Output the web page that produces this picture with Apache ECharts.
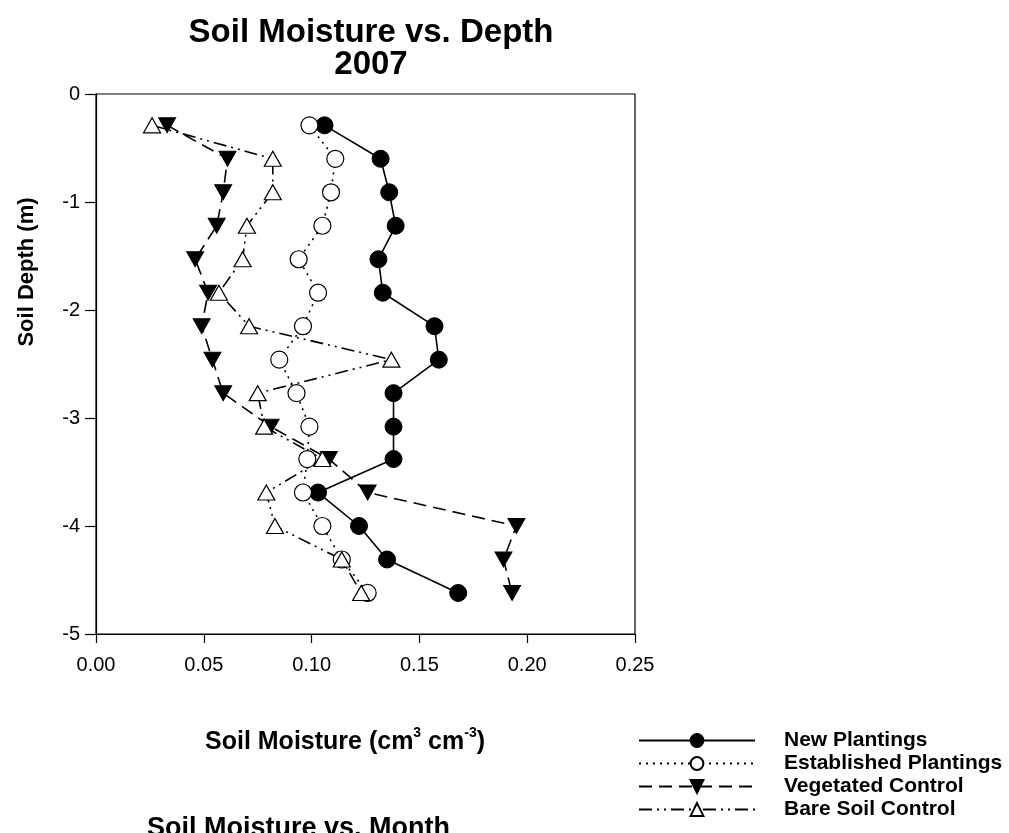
<!DOCTYPE html>
<html>
<head>
<meta charset="utf-8">
<script src="https://cdn.jsdelivr.net/npm/echarts@6/dist/echarts.min.js"></script>
<style>
html,body{margin:0;padding:0;background:#fff;}
#chart{width:1009px;height:833px;}
</style>
</head>
<body>
<div id="chart"></div>
<script>
const depths = [-0.29, -0.60, -0.91, -1.22, -1.53, -1.84, -2.15, -2.46, -2.77, -3.08, -3.38, -3.69, -4.00, -4.31, -4.62];
const newPlantings = [0.106, 0.132, 0.136, 0.139, 0.131, 0.133, 0.157, 0.159, 0.138, 0.138, 0.138, 0.103, 0.122, 0.135, 0.168];
const establishedPlantings = [0.099, 0.111, 0.109, 0.105, 0.094, 0.103, 0.096, 0.085, 0.093, 0.099, 0.098, 0.096, 0.105, 0.114, 0.126];
const vegetatedControl = [0.033, 0.061, 0.059, 0.056, 0.046, 0.052, 0.049, 0.054, 0.059, 0.081, 0.108, 0.126, 0.195, 0.189, 0.193];
const bareSoilControl = [0.026, 0.082, 0.082, 0.070, 0.068, 0.057, 0.071, 0.137, 0.075, 0.078, 0.105, 0.079, 0.083, 0.114, 0.123];
const seriesNames = ['New Plantings', 'Established Plantings', 'Vegetated Control', 'Bare Soil Control'];
const xTicks = [0, 0.05, 0.10, 0.15, 0.20, 0.25];
const yTicks = [0, -1, -2, -3, -4, -5];

const pair = arr => arr.map((v, i) => [v, depths[i]]);
const FONT = '"Liberation Sans", Arial, Helvetica, sans-serif';

const chart = echarts.init(document.getElementById('chart'), null, {renderer: 'canvas'});

const triDown = 'path://M0,0 L10,0 L5,9 Z';
const triUp = 'path://M5,0 L10,9 L0,9 Z';

const base = {type: 'line', animation: false, z: 3};

chart.setOption({
  backgroundColor: '#fff',
  animation: false,
  title: [
    {
      text: 'Soil Moisture vs. Depth\n2007',
      left: 366, top: 12, textAlign: 'center',
      textStyle: {fontFamily: FONT, fontWeight: 'bold', fontSize: 33, lineHeight: 32, color: '#000'}
    },
    {
      text: 'Soil Moisture vs. Month',
      left: 142, top: 810,
      textStyle: {fontFamily: FONT, fontWeight: 'bold', fontSize: 27, color: '#000'}
    }
  ],
  graphic: [
    {
      type: 'text', left: 205, top: 726, z: 10,
      style: {
        text: '{b|Soil Moisture (cm}{s|3}{b| cm}{s|-3}{b|)}',
        rich: {
          b: {fontFamily: FONT, fontWeight: 'bold', fontSize: 25, fill: '#000', lineHeight: 29, verticalAlign: 'bottom'},
          s: {fontFamily: FONT, fontWeight: 'bold', fontSize: 14, fill: '#000', lineHeight: 29, verticalAlign: 'top', padding: [0, 0, 12, 0]}
        }
      }
    },
    {
      type: 'text', x: 27, y: 272, rotation: Math.PI / 2, z: 10,
      style: {
        text: 'Soil Depth (m)', fontFamily: FONT, fontWeight: 'bold', fontSize: 22, fill: '#000',
        align: 'center', verticalAlign: 'middle'
      }
    }
  ],
  legend: {
    orient: 'vertical',
    left: 638, top: 730, padding: 0,
    itemWidth: 116, itemHeight: 16, itemGap: 2,
    data: seriesNames,
    textStyle: {fontFamily: FONT, fontWeight: 'bold', fontSize: 21, color: '#000', padding: [0, 0, 0, 24]},
    selectedMode: false
  },
  grid: {left: 96, top: 94, width: 539, height: 540, show: true, borderColor: '#000', borderWidth: 1.2, backgroundColor: 'transparent'},
  xAxis: {
    type: 'value', min: 0, max: 0.25, interval: 0.05,
    axisLine: {onZero: false, lineStyle: {color: '#000', width: 1.2}},
    axisTick: {show: true, inside: false, length: 9, lineStyle: {color: '#000', width: 1.2}},
    axisLabel: {fontFamily: FONT, fontSize: 20, color: '#000', margin: 21, formatter: v => v.toFixed(2)},
    splitLine: {show: false}
  },
  yAxis: {
    type: 'value', min: -5, max: 0, interval: 1,
    axisLine: {onZero: false, lineStyle: {color: '#000', width: 1.2}},
    axisTick: {show: true, inside: false, length: 11, lineStyle: {color: '#000', width: 1.2}},
    axisLabel: {fontFamily: FONT, fontSize: 20, color: '#000', margin: 16},
    splitLine: {show: false}
  },
  series: [
    Object.assign({}, base, {
      name: seriesNames[0], data: pair(newPlantings),
      symbol: 'circle', symbolSize: 17,
      lineStyle: {color: '#000', width: 1.6, type: 'solid'},
      itemStyle: {color: '#000', borderColor: '#000', borderWidth: 1}
    }),
    Object.assign({}, base, {
      name: seriesNames[1], data: pair(establishedPlantings),
      symbol: 'circle', symbolSize: 17,
      lineStyle: {color: '#000', width: 1.6, type: [2, 5]},
      itemStyle: {color: '#fff', borderColor: '#000', borderWidth: 1.2}
    }),
    Object.assign({}, base, {
      name: seriesNames[2], data: pair(vegetatedControl),
      symbol: triDown, symbolSize: [17, 15],
      lineStyle: {color: '#000', width: 1.6, type: [13, 7]},
      itemStyle: {color: '#000', borderColor: '#000', borderWidth: 1}
    }),
    Object.assign({}, base, {
      name: seriesNames[3], data: pair(bareSoilControl),
      symbol: triUp, symbolSize: [17, 15],
      lineStyle: {color: '#000', width: 1.6, type: [13, 5, 2, 5, 2, 5]},
      itemStyle: {color: '#fff', borderColor: '#000', borderWidth: 1.2}
    })
  ]
});
</script>
</body>
</html>
